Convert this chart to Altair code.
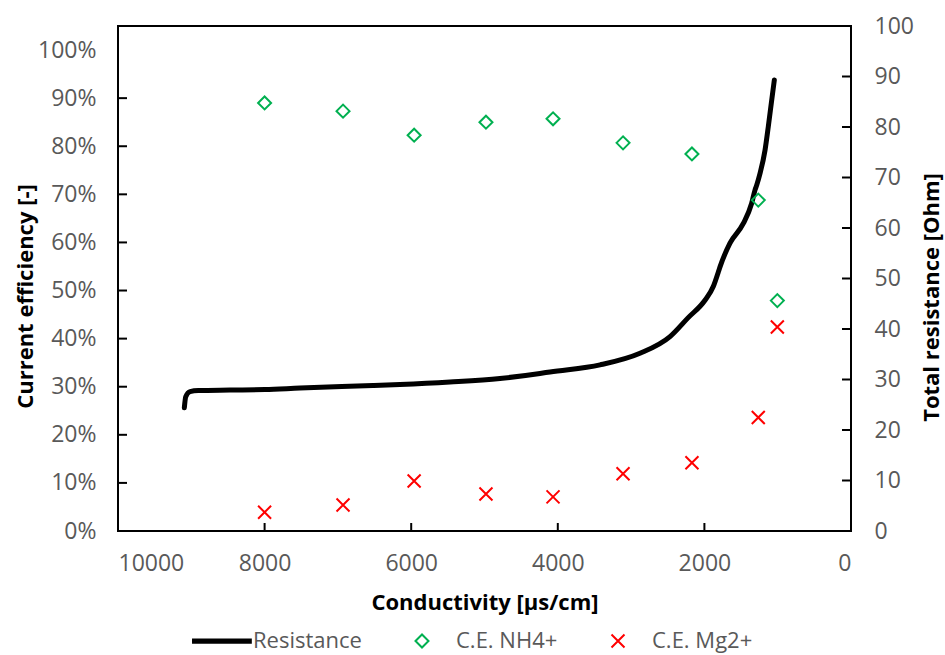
import altair as alt
import pandas as pd

# Conductivity [µS/cm] and total stack resistance [Ohm] over the run
res_cond = [9095, 9076, 9017, 8904, 8472, 7995, 7517, 6521, 6153, 5471, 4789,
            4243, 4106, 3424, 2879, 2469, 2224, 1992, 1879, 1814, 1787, 1651, 1469,
            1355, 1310, 1286, 1241, 1173, 1128, 1082, 1046]
res_ohm = [24.4, 26.6, 27.6, 27.8, 27.9, 28.0, 28.3, 28.8, 29.0, 29.5, 30.2,
           31.2, 31.5, 32.9, 35.2, 38.5, 42.2, 45.7, 48.4, 51.1, 52.3, 57.0, 60.9,
           64.9, 67.5, 68.5, 70.8, 75.4, 80.1, 85.3, 89.3]

# Current efficiency per sampling point
ce_cond = [8000, 6930, 5960, 4980, 4065, 3110, 2170, 1265, 1005]
ce_nh4 = [0.890, 0.873, 0.823, 0.850, 0.857, 0.807, 0.784, 0.688, 0.479]
ce_mg = [0.039, 0.054, 0.104, 0.077, 0.071, 0.119, 0.142, 0.236, 0.424]

series_names = ["Resistance", "C.E. NH4+", "C.E. Mg2+"]
series_colors = ["#000000", "#00B050", "#FF0000"]

x_ticks = [10000, 8000, 6000, 4000, 2000, 0]
left_ticks = [0, 0.1, 0.2, 0.3, 0.4, 0.5, 0.6, 0.7, 0.8, 0.9, 1.0]
right_ticks = [0, 10, 20, 30, 40, 50, 60, 70, 80, 90, 100]

W, H = 733, 505
FONT = "Open Sans"
LABEL_GREY = "#595959"

res_df = pd.DataFrame({"cond": res_cond, "ohm": res_ohm, "idx": range(len(res_cond))})
ce_df = pd.DataFrame({
    "cond": ce_cond * 2,
    "ce": ce_nh4 + ce_mg,
    "series": [series_names[1]] * len(ce_cond) + [series_names[2]] * len(ce_cond),
})

x_scale = alt.Scale(domain=[0, 10000], reverse=True, nice=False, zero=False)
x_axis = alt.Axis(
    title="Conductivity [μs/cm]", values=x_ticks, format="d",
    ticks=False, domain=False, grid=False, labelPadding=21,
    titleY=78, titleBaseline="alphabetic",
)
yl_scale = alt.Scale(domain=[0, 1.05], nice=False, zero=True)
yl_axis = alt.Axis(
    title="Current efficiency [-]", orient="left", values=left_ticks, format=".0%",
    ticks=False, domain=False, grid=False, labelPadding=22,
    titleX=-86, titleY=270, titleAngle=270, titleAlign="center",
    titleBaseline="alphabetic",
)
yr_scale = alt.Scale(domain=[0, 100], nice=False, zero=True)
yr_axis = alt.Axis(
    title="Total resistance [Ohm]", orient="right", values=right_ticks,
    ticks=False, domain=False, grid=False, labelPadding=23,
    titleX=87, titleY=271, titleAngle=270, titleAlign="center",
    titleBaseline="alphabetic",
)

# Legend symbols: thick line, open diamond, x-mark
line_symbol = "M-4.15,-0.25H5.05M-4.15,0H5.05M-4.15,0.25H5.05"
x_symbol = "M-1,-1L1,1M-1,1L1,-1"

legend = alt.Legend(
    title=None, orient="none", direction="horizontal",
    legendX=90, legendY=604, columnPadding=49, labelOffset=23,
    symbolSize=169, symbolStrokeWidth=2,
    labelFont=FONT, labelFontSize=22, labelColor=LABEL_GREY,
)

# Resistance curve on the secondary axis
res_line = alt.Chart(res_df).mark_line(
    color="black", strokeWidth=5, strokeCap="round", strokeJoin="round",
    interpolate="monotone",
).encode(
    x=alt.X("cond:Q", scale=x_scale, axis=x_axis),
    y=alt.Y("ohm:Q", scale=yr_scale, axis=yr_axis),
    order="idx:Q",
)
right_tick_marks = alt.Chart(pd.DataFrame({"v": right_ticks[1:-1]})).mark_rule(
    color="black", strokeWidth=2
).encode(
    y=alt.Y("v:Q", scale=yr_scale, axis=yr_axis),
    x=alt.value(W), x2=alt.value(W - 9),
)
right_group = alt.layer(res_line, right_tick_marks)

# Current efficiency markers on the primary axis
ce_points = alt.Chart(ce_df).mark_point(
    filled=False, size=169, strokeWidth=2, opacity=1
).encode(
    x=alt.X("cond:Q", scale=x_scale, axis=x_axis),
    y=alt.Y("ce:Q", scale=yl_scale, axis=yl_axis),
    color=alt.Color("series:N", scale=alt.Scale(domain=series_names, range=series_colors),
                    legend=legend),
    shape=alt.Shape("series:N", scale=alt.Scale(domain=series_names,
                                                range=[line_symbol, "diamond", x_symbol]),
                    legend=legend),
)
left_tick_marks = alt.Chart(pd.DataFrame({"v": left_ticks[1:-1]})).mark_rule(
    color="black", strokeWidth=2
).encode(
    y=alt.Y("v:Q", scale=yl_scale, axis=yl_axis),
    x=alt.value(0), x2=alt.value(9),
)
bottom_tick_marks = alt.Chart(pd.DataFrame({"v": x_ticks[1:-1]})).mark_rule(
    color="black", strokeWidth=2
).encode(
    x=alt.X("v:Q", scale=x_scale, axis=x_axis),
    y=alt.value(H), y2=alt.value(H - 8),
)
left_group = alt.layer(left_tick_marks, bottom_tick_marks, ce_points)

chart = alt.layer(right_group, left_group).resolve_scale(
    y="independent"
).properties(
    width=W, height=H,
    autosize=alt.AutoSizeParams(type="none"),
    padding={"left": 118, "top": 26, "right": 94, "bottom": 124},
    background="white",
).configure(
    font=FONT,
).configure_view(
    stroke="black", strokeWidth=2,
).configure_axis(
    labelFont=FONT, labelFontSize=23, labelColor=LABEL_GREY,
    titleFont=FONT, titleFontSize=22, titleFontWeight="bold", titleColor="black",
)

chart.save("out.html", embed_options={"renderer": "svg", "actions": False})
